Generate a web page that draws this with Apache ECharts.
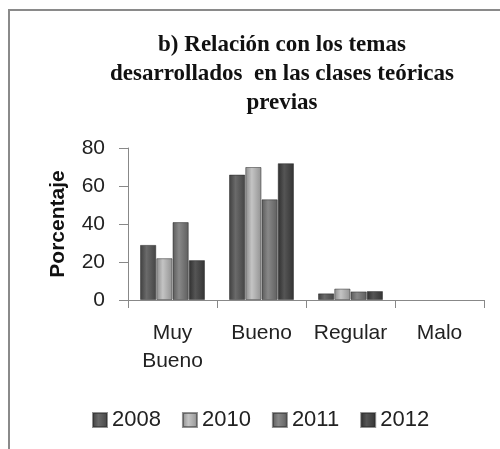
<!DOCTYPE html>
<html>
<head>
<meta charset="utf-8">
<script src="https://cdn.jsdelivr.net/npm/echarts@6/dist/echarts.min.js"></script>
<style>
  html, body { margin: 0; padding: 0; background: #fff; }
  #chart { width: 500px; height: 449px; }
</style>
</head>
<body>
<div id="chart"></div>
<script>
const categories = ['Muy\nBueno', 'Bueno', 'Regular', 'Malo']
const seriesNames = ['2008', '2010', '2011', '2012']
const values2008 = [29, 66, 3.5, 0]
const values2010 = [22, 70, 6, 0]
const values2011 = [41, 53, 4.5, 0]
const values2012 = [21, 72, 4.7, 0]
const yTicks = [0, 20, 40, 60, 80]

const allValues = [values2008, values2010, values2011, values2012]
const baseColors = [
  ['#3e3e3e', '#6a6a6a', '#444'],
  ['#8a8a8a', '#c4c4c4', '#929292'],
  ['#5a5a5a', '#888', '#5e5e5e'],
  ['#2e2e2e', '#555', '#333']
]

const grad = c => new echarts.graphic.LinearGradient(0, 0, 1, 0, [
  { offset: 0, color: c[0] },
  { offset: 0.4, color: c[1] },
  { offset: 1, color: c[2] }
])

const chart = echarts.init(document.getElementById('chart'))

const option = {
  animation: false,
  title: {
    text: 'b) Relación con los temas\ndesarrollados  en las clases teóricas\nprevias',
    left: 277,
    top: 26,
    textAlign: 'center',
    textStyle: {
      fontFamily: 'Liberation Serif',
      fontWeight: 'bold',
      fontSize: 23,
      lineHeight: 29,
      color: '#111'
    }
  },
  graphic: [{
    type: 'rect',
    shape: { x: 9, y: 10, width: 600, height: 600 },
    style: { fill: 'none', stroke: '#8a8a8a', lineWidth: 2 },
    silent: true
  }],
  legend: {
    data: seriesNames,
    top: 404,
    left: 87,
    itemWidth: 14,
    itemHeight: 14,
    itemGap: 21,
    icon: 'rect',
    textStyle: { fontFamily: 'Liberation Sans', fontSize: 22, color: '#222' }
  },
  grid: { left: 128, right: 16, top: 148, bottom: 149 },
  xAxis: {
    type: 'category',
    data: categories,
    axisLine: { lineStyle: { color: '#888' } },
    axisTick: { show: true, length: 8, lineStyle: { color: '#888' } },
    axisLabel: {
      fontFamily: 'Liberation Sans',
      fontSize: 21,
      color: '#222',
      margin: 19,
      lineHeight: 28,
      interval: 0
    }
  },
  yAxis: {
    type: 'value',
    min: 0,
    max: 80,
    interval: 20,
    name: 'Porcentaje',
    nameLocation: 'middle',
    nameGap: 59,
    nameTextStyle: { fontFamily: 'Liberation Sans', fontWeight: 'bold', fontSize: 21, color: '#111' },
    axisLine: { show: true, lineStyle: { color: '#888' } },
    axisTick: { show: true, length: 9, lineStyle: { color: '#888' } },
    splitLine: { show: false },
    axisLabel: {
      fontFamily: 'Liberation Sans',
      fontSize: 21,
      color: '#222',
      margin: 23,
      formatter: v => yTicks.includes(v) ? String(v) : ''
    }
  },
  series: seriesNames.map((name, i) => ({
    name,
    type: 'bar',
    data: allValues[i].map(v => ({ value: v, itemStyle: { borderWidth: v ? 1 : 0 } })),
    barGap: '0%',
    barCategoryGap: '27%',
    itemStyle: {
      color: grad(baseColors[i]),
      borderColor: 'rgba(40,40,40,0.5)',
      borderWidth: 1
    }
  }))
}

chart.setOption(option)
</script>
</body>
</html>
